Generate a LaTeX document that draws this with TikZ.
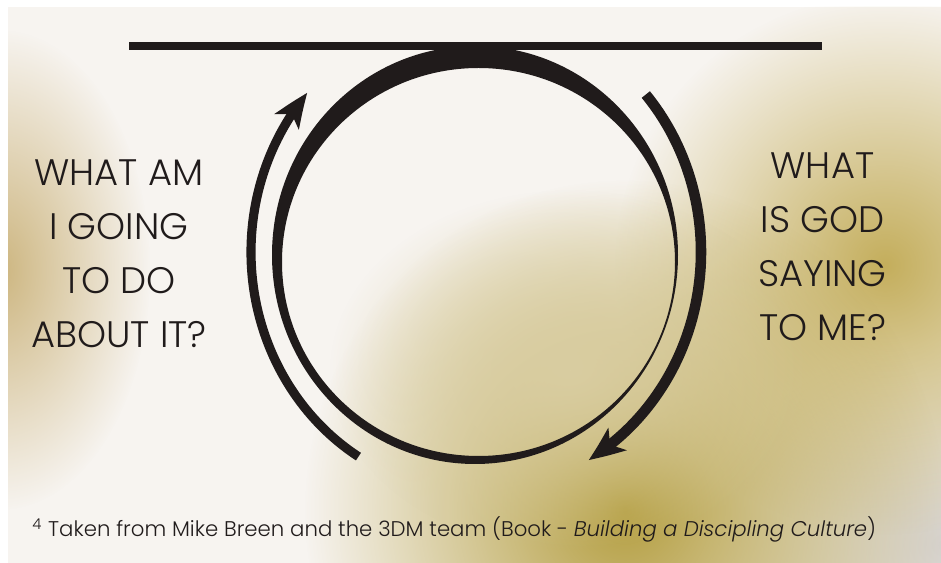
\documentclass[tikz,border=0pt]{standalone}
\usepackage{fontspec}
\setmainfont{Poppins}[UprightFont=* Light,ItalicFont=* Light Italic]
\usepackage{xcolor}
\usepackage{tikz}
\usetikzlibrary{arrows.meta,bending,fadings}
\definecolor{ink}{RGB}{32,27,27}
\definecolor{paper}{RGB}{247,244,240}
\definecolor{tanleft}{RGB}{205,182,128}
\definecolor{goldright}{RGB}{196,174,92}
\definecolor{goldlow}{RGB}{180,158,64}
\definecolor{greyright}{RGB}{214,210,205}
\tikzfading[name=blob,inner color=transparent!0,outer color=transparent!100]

\begin{document}
\begin{tikzpicture}[x=0.02cm,y=0.02cm,>={Stealth[length=20pt,width=16pt,inset=5pt,bend]},
  ask/.style={ink,align=center,inner sep=0pt,font=\fontsize{21}{30.7}\selectfont}]
\useasboundingbox (0,0) rectangle (941,-563);
% background photo
\begin{scope}
\clip (8,-7) rectangle (941,-563);
\fill[paper] (8,-7) rectangle (941,-563);
\fill[greyright,path fading=blob] (945,-545) ellipse [x radius=240,y radius=200];
\fill[tanleft,path fading=blob] (0,-270) ellipse [x radius=150,y radius=240];
\fill[goldright,path fading=blob] (885,-265) ellipse [x radius=270,y radius=270];
\fill[goldlow,path fading=blob] (625,-510) ellipse [x radius=320,y radius=330];
\fill[goldlow!45!paper,path fading=blob] (570,-370) ellipse [x radius=240,y radius=180];
\end{scope}
% the ring on the line
\coordinate (ring) at (475,-255);
\coordinate (hole) at (478.5,-262);
\coordinate (loop) at (476,-252);
\draw[ink,line width=4.6pt] (129,-46) -- (822,-46);
\fill[ink,even odd rule] (ring) ellipse [x radius=203,y radius=209]
  (hole) ellipse [x radius=196.5,y radius=194];
% the two arrows round it
\draw[ink,line width=5.2pt,->] (loop) ++(238.5:225 and 240)
  arc[start angle=238.5,end angle=138.5,x radius=225,y radius=240];
\draw[ink,line width=6pt,->] (loop) ++(41:225 and 240)
  arc[start angle=41,end angle=-60,x radius=225,y radius=240];
% questions
\node[ask] (act) at (119,-253.5) {WHAT AM\\I GOING\\TO DO\\ABOUT IT?};
\node[ask] (hear) at (822.5,-246.5) {WHAT\\IS GOD\\SAYING\\TO ME?};
\node[ink,anchor=base west,inner sep=0pt,font=\fontsize{12.1}{15}\selectfont] (note) at (32,-537)
  {\textsuperscript{4} Taken from Mike Breen and the 3DM team (Book - \textit{Building a Discipling Culture})};
\end{tikzpicture}
\end{document}
